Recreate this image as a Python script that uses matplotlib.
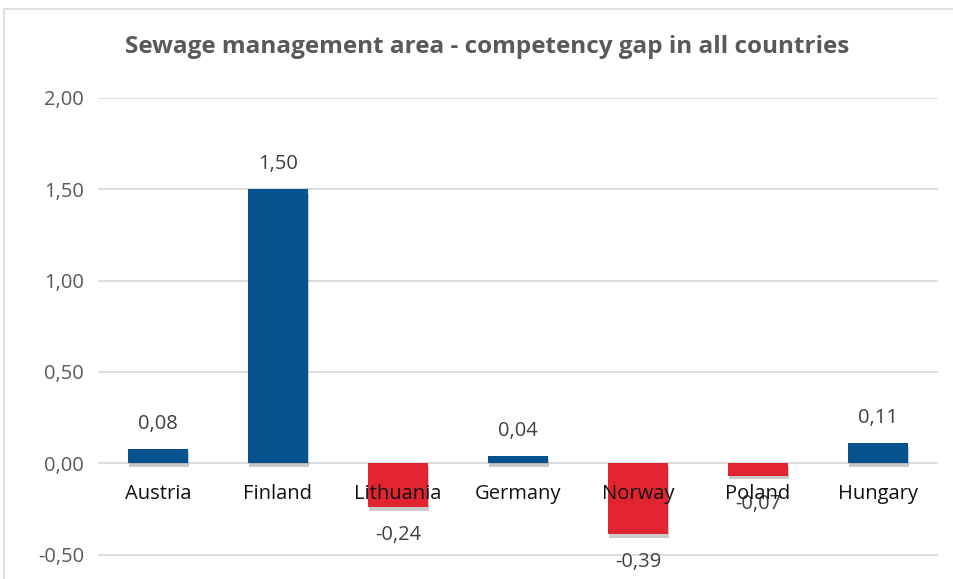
import matplotlib.pyplot as plt
import matplotlib.patheffects as pe
from matplotlib.patches import Rectangle

plt.rcParams['font.family'] = ['Open Sans', 'DejaVu Sans']

countries = ['Austria', 'Finland', 'Lithuania', 'Germany', 'Norway', 'Poland', 'Hungary']
gap = [0.08, 1.50, -0.24, 0.04, -0.39, -0.07, 0.11]
yticks = [-0.5, 0.0, 0.5, 1.0, 1.5, 2.0]

blue = '#07538F'
red = '#E1242F'

fig = plt.figure(figsize=(9.54, 5.79), dpi=100)
ax = fig.add_axes([98 / 954, 0.0, 840 / 954, 1 - 98 / 579])

x = list(range(len(countries)))
colors = [blue if v >= 0 else red for v in gap]
bars = ax.bar(x, gap, width=0.5, color=colors, zorder=3)
for b in bars:
    b.set_path_effects([pe.SimplePatchShadow(offset=(0.5, -2.5), shadow_rgbFace='#555555', alpha=0.3),
                        pe.Normal()])

ax.set_xlim(-0.5, len(countries) - 0.5)
ax.set_ylim(-0.634, 2.0)
ax.set_yticks(yticks)
ax.set_yticklabels([f'{t:.2f}'.replace('.', ',') for t in yticks], fontsize=14.5, color='#595959')
ax.tick_params(axis='y', length=0, pad=10)
ax.set_xticks([])
ax.grid(axis='y', color='#D9D9D9', linewidth=1.3, zorder=0)
for s in ax.spines.values():
    s.set_visible(False)

for i, (c, v) in enumerate(zip(countries, gap)):
    ax.annotate(c, (i, 0), xytext=(0, -22.5), textcoords='offset points', ha='center', va='center',
                fontsize=14.5, color='#111111', zorder=4)
    lbl = f'{v:.2f}'.replace('.', ',')
    off = 18 if v >= 0 else -20
    ax.annotate(lbl, (i, v), xytext=(0, off), textcoords='offset points', ha='center', va='center',
                fontsize=14.5, color='#404040', annotation_clip=False)

fig.text(487 / 954, 1 - 47 / 579, 'Sewage management area - competency gap in all countries',
         ha='center', va='center', fontsize=17.5, fontweight='bold', color='#595959')

fig.patches.append(Rectangle((4 / 954, -0.1), 1.2, 1 - 9 / 579 + 0.1, transform=fig.transFigure,
                             fill=False, edgecolor='#D9D9D9', linewidth=1.2))

fig.savefig('out.png', dpi=100)
